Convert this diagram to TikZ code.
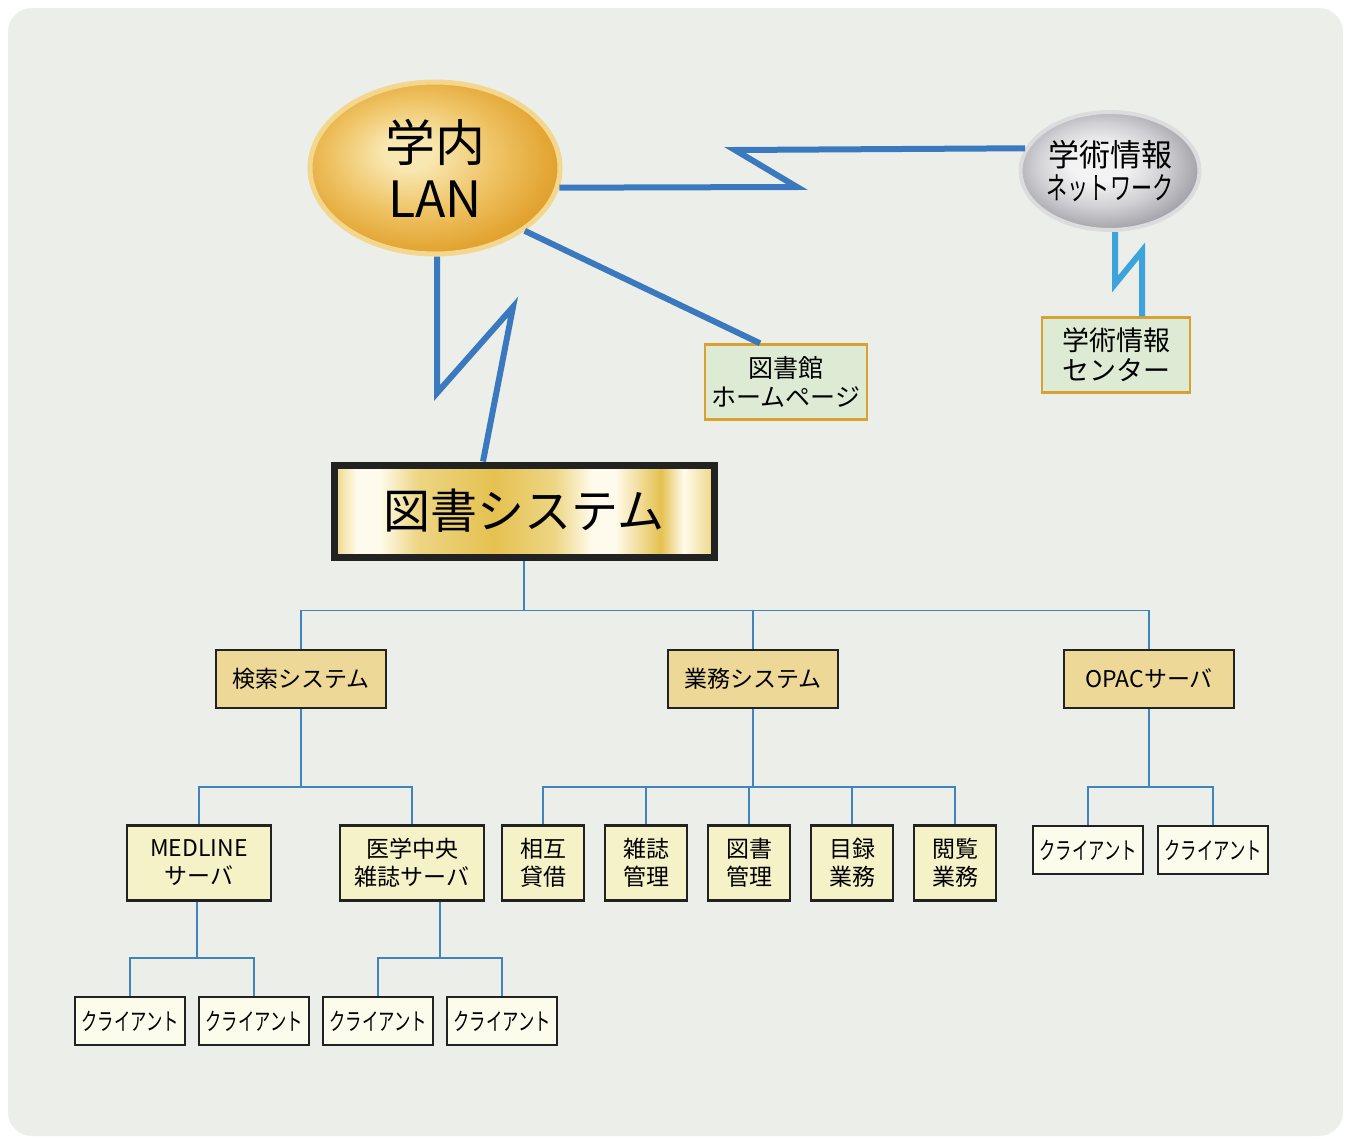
\documentclass[tikz,border=0pt]{standalone}
\usepackage{fontspec}
\setmainfont{Noto Sans CJK JP}
\newfontfamily\narrowjp[FakeStretch=0.68]{Noto Sans CJK JP}
\usetikzlibrary{shapes.geometric}

\definecolor{bgcol}{HTML}{ECEFE9}
\definecolor{zigblue}{HTML}{3B79BF}
\definecolor{ziglight}{HTML}{3CA3DC}
\definecolor{treeblue}{HTML}{3F84BD}
\definecolor{boxline}{HTML}{222222}
\definecolor{lvtwo}{HTML}{EED897}
\definecolor{lvthree}{HTML}{F6F2C8}
\definecolor{lvfour}{HTML}{FCFCEC}
\definecolor{pagegreen}{HTML}{DDEBD5}
\definecolor{pageorange}{HTML}{D9A032}
\definecolor{lanlight}{HTML}{F8E7B0}
\definecolor{lanmid}{HTML}{EFC466}
\definecolor{landark}{HTML}{E2A22E}
\definecolor{lanrim}{HTML}{F3D78E}
\definecolor{netlight}{HTML}{F3F3F4}
\definecolor{netmid}{HTML}{D0D0D4}
\definecolor{netdark}{HTML}{A2A2A8}
\definecolor{netrim}{HTML}{DCDCDF}
\definecolor{goldbase}{HTML}{EDD584}
\definecolor{goldwhite}{HTML}{FFFBEC}
\definecolor{golddeep}{HTML}{E5C150}

\pgfdeclareradialshading{lanshade}{\pgfpoint{-6bp}{5bp}}{%
  color(0bp)=(lanlight); color(5bp)=(lanlight); color(16bp)=(lanmid);
  color(27bp)=(landark); color(50bp)=(landark)}
\pgfdeclareradialshading{netshade}{\pgfpoint{-4bp}{4bp}}{%
  color(0bp)=(netlight); color(8bp)=(netlight); color(18bp)=(netmid);
  color(27bp)=(netdark); color(50bp)=(netdark)}
\pgfdeclarehorizontalshading{goldbar}{100bp}{%
  color(0bp)=(goldbase); color(25bp)=(goldbase);
  color(28bp)=(goldwhite); color(31bp)=(goldwhite); color(36bp)=(goldbase);
  color(46bp)=(golddeep); color(54bp)=(goldbase);
  color(59bp)=(goldwhite); color(62bp)=(goldwhite); color(68bp)=(golddeep);
  color(71bp)=(goldwhite); color(75bp)=(goldbase); color(100bp)=(goldbase)}

\begin{document}
\begin{tikzpicture}[x=0.5pt,y=-0.5pt]
  \tikzset{
    zigline/.style={draw=zigblue, line width=3pt, line join=miter},
    treeline/.style={draw=treeblue, line width=0.9pt},
    pagebox/.style={rectangle, draw=pageorange, line width=1.2pt, fill=pagegreen,
      minimum height=37.5pt, align=center, inner sep=0pt},
    lvtwobox/.style={rectangle, draw=boxline, line width=1.3pt, fill=lvtwo,
      minimum width=85pt, minimum height=29pt, font=\fontsize{11.5}{13}\selectfont},
    lvthreebox/.style={rectangle, draw=boxline, line width=1.3pt, fill=lvthree,
      minimum height=37.5pt, align=center, inner sep=0pt, font=\fontsize{11.5}{14}\selectfont},
    clientbox/.style={rectangle, draw=boxline, line width=1.3pt, fill=lvfour,
      minimum width=55pt, minimum height=24pt, inner sep=0pt, font=\narrowjp\fontsize{12}{14}\selectfont}
  }
  \useasboundingbox (0,0) rectangle (1350,1140);
  \fill[white] (0,0) rectangle (1350,1140);
  \fill[bgcol, rounded corners=12pt] (8,8) rectangle (1343,1136);

  % networks
  \node[ellipse, shading=lanshade, draw=lanrim, line width=2.5pt,
    minimum width=125pt, minimum height=86pt, inner sep=0pt, align=center,
    font=\fontsize{25}{28}\selectfont] (lan) at (435,168) {学内\\LAN};
  \node[ellipse, shading=netshade, draw=netrim, line width=2pt,
    minimum width=83pt, minimum height=59pt, inner sep=0pt, align=center,
    font=\fontsize{15.5}{16.5}\selectfont] (net) at (1110,171) {学術情報\\{\narrowjp ネットワーク}};
  \node[pagebox, minimum width=81pt, font=\fontsize{12.5}{14.5}\selectfont] (home) at (786,382) {図書館\\ホームページ};
  \node[pagebox, minimum width=74pt, font=\fontsize{13.5}{15}\selectfont] (centre) at (1116,355) {学術情報\\センター};
  \node[rectangle, draw=boxline, line width=3.5pt, shading=goldbar,
    minimum width=190pt, minimum height=46pt, font=\fontsize{23.5}{26}\selectfont] (lib) at (524,511) {図書システム};

  \draw[zigline] (lan.-9) -- (797,187) -- (735,150) -- (net.165);
  \draw[zigline] (lan.-35) -- ([xshift=-13pt]home.north);
  \draw[zigline] ([xshift=1pt]lan.south) -- (437,393) -- (513,307) -- ([xshift=-20.5pt]lib.north);
  \draw[zigline, draw=ziglight] ([xshift=2.5pt]net.south) -- ++(0,52) -- ++(27,-33) -- ([xshift=13pt]centre.north);

  % systems
  \node[lvtwobox] (search) at (301,679) {検索システム};
  \node[lvtwobox] (work) at (753,679) {業務システム};
  \node[lvtwobox] (opac) at (1149,679) {OPACサーバ};

  \node[lvthreebox, minimum width=72pt] (medline) at (199,863) {MEDLINE\\サーバ};
  \node[lvthreebox, minimum width=72pt] (igaku) at (412,863) {医学中央\\雑誌サーバ};
  \node[lvthreebox, minimum width=41pt] (sogo) at (543,863) {相互\\貸借};
  \node[lvthreebox, minimum width=41pt] (zasshi) at (646,863) {雑誌\\管理};
  \node[lvthreebox, minimum width=41pt] (tosho) at (749,863) {図書\\管理};
  \node[lvthreebox, minimum width=41pt] (mokuroku) at (852,863) {目録\\業務};
  \node[lvthreebox, minimum width=41pt] (etsuran) at (955,863) {閲覧\\業務};

  \node[clientbox] (cla) at (130,1021) {クライアント};
  \node[clientbox] (clb) at (254,1021) {クライアント};
  \node[clientbox] (clc) at (378,1021) {クライアント};
  \node[clientbox] (cld) at (502,1021) {クライアント};
  \node[clientbox] (cle) at (1088,850) {クライアント};
  \node[clientbox] (clf) at (1213,850) {クライアント};

  % tree
  \draw[treeline] (lib.south) -- ++(0,50) coordinate (hub);
  \foreach \n in {search,work,opac}
    \draw[treeline] (hub) -| (\n.north);
  \draw[treeline] (search.south) -- ++(0,78) coordinate (hubs);
  \foreach \n in {medline,igaku}
    \draw[treeline] (hubs) -| (\n.north);
  \draw[treeline] (work.south) -- ++(0,78) coordinate (hubw);
  \foreach \n in {sogo,zasshi,tosho,mokuroku,etsuran}
    \draw[treeline] (hubw) -| (\n.north);
  \draw[treeline] (opac.south) -- ++(0,78) coordinate (hubo);
  \foreach \n in {cle,clf}
    \draw[treeline] (hubo) -| (\n.north);
  \draw[treeline] ([xshift=-1pt]medline.south) -- ++(0,56) coordinate (hubm);
  \foreach \n in {cla,clb}
    \draw[treeline] (hubm) -| (\n.north);
  \draw[treeline] ([xshift=14pt]igaku.south) -- ++(0,56) coordinate (hubi);
  \foreach \n in {clc,cld}
    \draw[treeline] (hubi) -| (\n.north);
\end{tikzpicture}
\end{document}
